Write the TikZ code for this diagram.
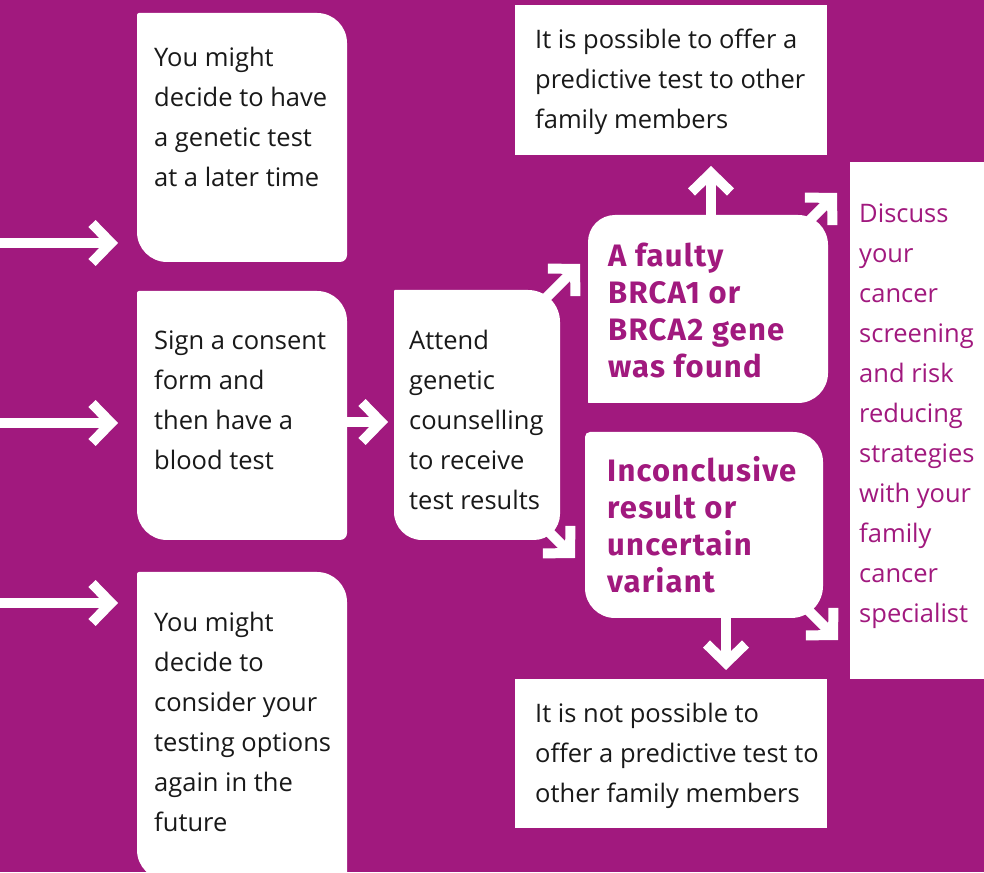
\documentclass[tikz,border=0pt]{standalone}
\usepackage{fontspec}
\setmainfont{Open Sans}
\newfontfamily\dinf[LetterSpace=4]{Fira Sans}
\usetikzlibrary{arrows.meta,calc}
\definecolor{mag}{RGB}{161,25,126}
\definecolor{ink}{RGB}{25,25,25}
\newcommand\cornerbox[5]{\fill[white] ([xshift=#2]#1.north west) -- ([xshift=-#3]#1.north east) arc[start angle=90,end angle=0,radius=#3] -- ([yshift=#4]#1.south east) arc[start angle=0,end angle=-90,radius=#4] -- ([xshift=#5]#1.south west) arc[start angle=270,end angle=180,radius=#5] -- ([yshift=-#2]#1.north west) arc[start angle=180,end angle=90,radius=#2] -- cycle;}
\newcommand\txt[1]{\parbox[t]{330pt}{\raggedright #1}}
\tikzset{
 frame/.style={rectangle, inner sep=0pt, outer sep=0pt, anchor=north west},
 body/.style={anchor=base west, inner sep=0pt, text=ink, font=\fontsize{25.5pt}{40pt}\selectfont},
 hot/.style={anchor=base west, inner sep=0pt, text=mag, font=\dinf\bfseries\fontsize{31pt}{37pt}\selectfont},
 flow/.style={draw=white, line width=10pt, -{Straight Barb[length=19pt,width=39pt,sharp]}},
}
\begin{document}
\begin{tikzpicture}[x=1pt,y=1pt]
\useasboundingbox (0,0) rectangle (984,872);
\clip (0,0) rectangle (984,872);
\fill[mag] (0,0) rectangle (984,872);
% frames
\node[frame, minimum width=210pt, minimum height=249pt] (A) at (137,859) {};
\node[frame, minimum width=210pt, minimum height=249pt] (B) at (137,581) {};
\node[frame, minimum width=210pt, minimum height=308pt] (C) at (137,300) {};
\node[frame, minimum width=166pt, minimum height=250pt] (D) at (394,582) {};
\node[frame, minimum width=240pt, minimum height=188pt] (E) at (588,657) {};
\node[frame, minimum width=238pt, minimum height=186pt] (F) at (585,440) {};
\node[frame, minimum width=312pt, minimum height=150pt] (G) at (515,867) {};
\node[frame, minimum width=312pt, minimum height=149pt] (H) at (515,193) {};
\node[frame, minimum width=140pt, minimum height=517pt] (I) at (850,710) {};
\cornerbox{A}{2pt}{30pt}{7pt}{30pt}
\cornerbox{B}{2pt}{30pt}{7pt}{30pt}
\cornerbox{C}{2pt}{30pt}{7pt}{30pt}
\cornerbox{D}{1pt}{32pt}{26pt}{28pt}
\cornerbox{E}{27pt}{30pt}{30pt}{0.5pt}
\cornerbox{F}{5pt}{30pt}{32pt}{30pt}
\fill[white] (G.north west) rectangle (G.south east);
\fill[white] (H.north west) rectangle (H.south east);
\fill[white] (I.north west) rectangle (I.south east);
% texts
\node[body] (tA) at (154,805) {\txt{You might\\decide to have\\a genetic test\\at a later time}};
\node[body] (tB) at (154,522) {\txt{Sign a consent\\form and\\then have a\\blood test}};
\node[body] (tC) at (154,240) {\txt{You might\\decide to\\consider your\\testing options\\again in the\\future}};
\node[body] (tD) at (409,522) {\txt{Attend\\genetic\\counselling\\to receive\\test results}};
\node[hot] (tE) at (608,605) {\txt{A faulty\\BRCA1 or\\BRCA2 gene\\was found}};
\node[hot] (tF) at (607,390) {\txt{Inconclusive\\result or\\uncertain\\variant}};
\node[body] (tG) at (535,823) {\txt{It is possible to offer a\\predictive test to other\\family members}};
\node[body] (tH) at (535,149) {\txt{It is not possible to\\offer a predictive test to\\other family members}};
\node[body, text=mag] (tI) at (859,649) {\txt{Discuss\\your\\cancer\\screening\\and risk\\reducing\\strategies\\with your\\family\\cancer\\specialist}};
% connectors
\coordinate (in1) at (-5,629);
\coordinate (in2) at (-5,449);
\coordinate (in3) at (-5,269);
\draw[flow, shorten >=19pt] (in1) -- (in1 -| A.west);
\draw[flow, shorten >=19pt] (in2) -- (in2 -| B.west);
\draw[flow, shorten >=19pt] (in3) -- (in3 -| C.west);
\coordinate (s4) at ([yshift=-6.5pt]B.east);
\draw[flow, shorten >=6pt] (s4) -- (s4 -| D.west);
\draw[flow] ($(D.north east)+(-15,-9)$) -- ($(E.north west)+(-8,-49)$);
\draw[flow] ($(D.south east)+(-20,17)$) -- ($(F.north west)+(-10,-126)$);
\coordinate (s7) at ($(E.north)+(3,-5)$);
\draw[flow, shorten >=11pt] (s7) -- (s7 |- G.south);
\draw[flow] ($(E.north east)+(-18,-5)$) -- ($(I.north west)+(-13,-31)$);
\coordinate (s9) at ($(F.south)+(22,5)$);
\draw[flow, shorten >=9pt] (s9) -- (s9 |- H.north);
\draw[flow] ($(F.south east)+(-23,16)$) -- ($(I.south west)+(-12,39)$);
\end{tikzpicture}
\end{document}
